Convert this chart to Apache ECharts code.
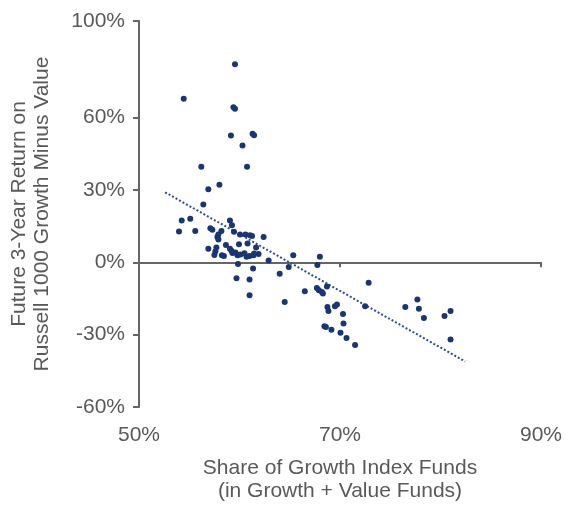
<!DOCTYPE html>
<html>
<head>
<meta charset="utf-8">
<script src="https://cdn.jsdelivr.net/npm/echarts@6/dist/echarts.min.js"></script>
<style>
  html, body { margin: 0; padding: 0; background: #fff; }
  #chart { width: 565px; height: 508px; }
</style>
</head>
<body>
<div id="chart"></div>
<script>
// share of growth index funds (%)
const shareX = [
  59.55, 54.45, 59.4, 59.55, 59.15, 61.3, 61.45, 60.3, 56.2, 60.75,
  58.0, 56.9, 56.4, 54.25, 55.1, 59.05, 59.25, 53.98, 55.6, 57.1,
  57.3, 58.2, 57.9, 57.8, 57.9, 59.45, 60.05, 60.6, 61.05, 61.25,
  62.4, 56.9, 57.7, 57.6, 57.5, 58.65, 59.05, 59.2, 58.25, 58.45,
  59.95, 60.8, 61.65, 59.6, 59.8, 60.1, 60.5, 60.7, 61.0, 61.4,
  61.9, 62.9, 59.85, 61.35, 59.7, 61.0, 61.0, 64.0, 65.35, 64.9,
  64.5, 66.5, 67.75, 68.0, 67.7, 67.9, 68.2, 68.3, 68.7, 68.75,
  68.85, 69.5, 69.7, 68.45, 68.6, 69.15, 70.3, 70.35, 70.05, 70.65,
  71.5, 72.85, 72.5, 77.7, 76.5, 77.85, 78.35, 81.0, 80.4, 81.0,
  59.3, 61.45
];
// future 3-year return, growth minus value (%)
const futureY = [
  82.1, 67.8, 64.2, 63.6, 52.5, 53.3, 52.6, 48.4, 39.6, 39.6,
  32.1, 30.3, 23.9, 17.3, 18.0, 17.3, 15.3, 12.7, 13.0, 14.1,
  13.5, 13.0, 11.5, 10.5, 9.4, 12.6, 11.5, 11.5, 11.2, 10.9,
  10.5, 5.6, 6.1, 4.5, 3.0, 7.2, 5.6, 4.8, 2.9, 2.6,
  7.5, 7.8, 6.1, 4.0, 2.9, 3.2, 3.7, 2.3, 2.6, 2.9,
  3.4, 0.7, -0.7, -2.6, -6.6, -7.2, -13.7, -4.8, 2.9, -2.0,
  -16.5, -12.0, -1.1, 2.3, -10.7, -11.6, -12.3, -13.0, -10.0, -18.6,
  -20.2, -18.2, -17.5, -26.5, -26.8, -28.0, -21.4, -25.4, -29.2, -31.4,
  -34.3, -8.5, -18.2, -15.4, -18.6, -19.3, -23.1, -20.2, -22.3, -32.0,
  3.8, 3.6
];
// dotted trend line end points
const trendX = [52.6, 82.45];
const trendY = [29.0, -41.1];

const yTicks = [-60, -30, 0, 30, 60, 100];
const xTicks = [50, 70, 90];

const points = shareX.map((x, i) => [x, futureY[i]]);
const trend = trendX.map((x, i) => [x, trendY[i]]);

const font = "'Liberation Sans', Arial, sans-serif";
const grey = "#595959";

const myChart = echarts.init(document.getElementById("chart"));
myChart.setOption({
  animation: false,
  grid: { left: 139, right: 24, top: 21, bottom: 96, containLabel: false },
  xAxis: [
    {
      type: "value",
      min: 50,
      max: 90,
      interval: 20,
      position: "bottom",
      axisLine: { show: false, onZero: false },
      axisTick: { show: false },
      splitLine: { show: false },
      axisLabel: {
        formatter: "{value}%",
        margin: 18,
        color: grey,
        fontSize: 21,
        fontFamily: font,
        customValues: xTicks
      },
      name: "Share of Growth Index Funds\n(in Growth + Value Funds)",
      nameLocation: "middle",
      nameGap: 50,
      nameTextStyle: { color: grey, fontSize: 21, fontFamily: font, lineHeight: 23 }
    },
    {
      type: "value",
      min: 50,
      max: 90,
      interval: 20,
      position: "top",
      axisLine: { onZero: true, lineStyle: { color: "#666", width: 2 } },
      axisTick: { show: true, inside: true, length: 5, lineStyle: { color: "#666", width: 2 } },
      axisLabel: { show: false },
      splitLine: { show: false }
    }
  ],
  yAxis: {
    type: "value",
    min: -60,
    max: 100,
    interval: 10,
    axisLine: { show: true, onZero: false, lineStyle: { color: "#666", width: 2 } },
    axisTick: { show: true, length: 6, customValues: yTicks, lineStyle: { color: "#666", width: 2 } },
    splitLine: { show: false },
    axisLabel: {
      formatter: "{value}%",
      margin: 14,
      color: grey,
      fontSize: 21,
      fontFamily: font,
      customValues: yTicks
    },
    name: "Future 3-Year Return on\nRussell 1000 Growth Minus Value",
    nameLocation: "middle",
    nameRotate: 90,
    nameGap: 85,
    nameTextStyle: { color: grey, fontSize: 21, fontFamily: font, lineHeight: 23 }
  },
  series: [
    {
      type: "line",
      data: trend,
      showSymbol: false,
      symbol: "none",
      lineStyle: { type: "dotted", width: 2, color: "#2e4c94" },
      z: 1
    },
    {
      type: "scatter",
      data: points,
      symbolSize: 6,
      itemStyle: { color: "#1b3572", opacity: 1 },
      z: 2
    }
  ]
});
</script>
</body>
</html>
